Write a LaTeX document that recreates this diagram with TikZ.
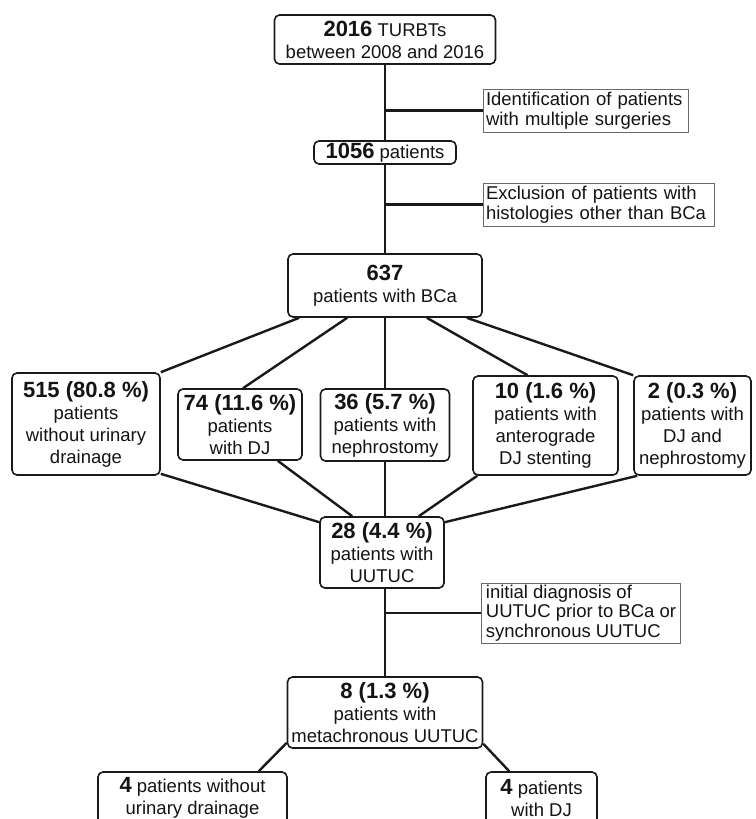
\documentclass[tikz,border=0pt]{standalone}
\usepackage{fontspec}
\setmainfont{Liberation Sans}
\definecolor{linec}{HTML}{1A1A1A}
\definecolor{textc}{HTML}{141414}
\definecolor{sidec}{HTML}{6A6A6A}
\newcommand\bnum[1]{{\fontsize{22}{22}\selectfont\bfseries #1}}
\begin{document}
\begin{tikzpicture}[x=1pt,y=-1pt,
  mainbox/.style={draw=linec, line width=1.6pt, rounded corners=5pt, fill=white,
    align=center, inner sep=0pt, text=textc, font=\fontsize{18.5}{22}\selectfont},
  sidebox/.style={draw=sidec, line width=0.9pt, fill=white, align=left,
    inner xsep=3pt, inner ysep=1pt, text=textc, font=\fontsize{18.5}{19.5}\selectfont},
  conn/.style={draw=linec, line width=2.4pt}]
\clip (0,0) rectangle (755,819);
\fill[white] (0,0) rectangle (755,819);

% nodes
\node[mainbox, minimum width=221pt, minimum height=49pt] (top) at (385,39.5)
  {\bnum{2016} TURBTs\\between 2008 and 2016};
\node[sidebox, text width=199pt, minimum height=43pt] (ident) at (585.5,110.5)
  {Identification of patients\\with multiple surgeries};
\node[mainbox, minimum width=142pt, minimum height=23pt] (n1056) at (385,152.5)
  {\bnum{1056} patients};
\node[sidebox, text width=225pt, minimum height=43pt] (excl) at (598.5,204.5)
  {Exclusion of patients with\\histologies other than BCa};
\node[mainbox, minimum width=194pt, minimum height=63pt] (b637) at (385,285.5)
  {\bnum{637}\\patients with BCa};

\node[mainbox, minimum width=148pt, minimum height=102pt] (b515) at (86,424)
  {\bnum{515 (80.8 \%)}\\patients\\without urinary\\drainage};
\node[mainbox, minimum width=124pt, minimum height=71pt] (b74) at (240,424.5)
  {\bnum{74 (11.6 \%)}\\patients\\with DJ};
\node[mainbox, minimum width=129pt, minimum height=72pt] (b36) at (385,425)
  {\bnum{36 (5.7 \%)}\\patients with\\nephrostomy};
\node[mainbox, minimum width=145pt, minimum height=99pt] (b10) at (545.5,425.5)
  {\bnum{10 (1.6 \%)}\\patients with\\anterograde\\DJ stenting};
\node[mainbox, minimum width=117pt, minimum height=99pt] (b2) at (692.5,425.5)
  {\bnum{2 (0.3 \%)}\\patients with\\DJ and\\nephrostomy};

\node[mainbox, minimum width=124pt, minimum height=71pt] (b28) at (382,552.5)
  {\bnum{28 (4.4 \%)}\\patients with\\UUTUC};
\node[sidebox, inner xsep=4pt, minimum height=60pt] (init) at (581,613)
  {initial diagnosis of\\UUTUC prior to BCa or\\synchronous UUTUC};
\node[mainbox, minimum width=195pt, minimum height=71pt] (b8) at (385,712.5)
  {\bnum{8 (1.3 \%)}\\patients with\\metachronous UUTUC};
\node[mainbox, minimum width=189pt, minimum height=52pt] (bl) at (192.5,798)
  {\bnum{4} patients without\\urinary drainage};
\node[mainbox, minimum width=111pt, minimum height=52pt] (br) at (541.5,798)
  {\bnum{4} patients\\with DJ};

% connectors
\draw[conn] (top) -- (n1056);
\draw[conn] (n1056) -- (b637);
\draw[conn] (ident.west) -- (ident.west -| top.south);
\draw[conn] (excl.west) -- (excl.west -| top.south);
\draw[conn] ([xshift=12pt]b637.south west) -- (b515.north east);
\draw[conn] ([xshift=60pt]b637.south west) -- ([xshift=3pt]b74.north);
\draw[conn] (b637) -- (b36);
\draw[conn] ([xshift=-56pt]b637.south east) -- ([xshift=-18pt]b10.north);
\draw[conn] ([xshift=-16pt]b637.south east) -- (b2.north west);
\draw[conn] ([yshift=2pt]b515.south east) -- ([yshift=-6pt]b28.north west);
\draw[conn] ([xshift=-25pt]b74.south east) -- ([xshift=33pt]b28.north west);
\draw[conn] (b36.south) -- (b36.south |- b28.north);
\draw[conn] ([xshift=5pt]b10.south west) -- ([xshift=-26pt]b28.north east);
\draw[conn] ([xshift=4pt]b2.south west) -- ([yshift=-6pt]b28.north east);
\draw[conn] (b8.north) -- (b8.north |- b28.south);
\draw[conn] (init.west) -- (init.west -| b8.north);
\draw[conn] ([yshift=6pt]b8.south west) -- ([xshift=-29pt]bl.north east);
\draw[conn] ([yshift=5pt]b8.south east) -- ([xshift=24pt]br.north west);
\end{tikzpicture}
\end{document}
